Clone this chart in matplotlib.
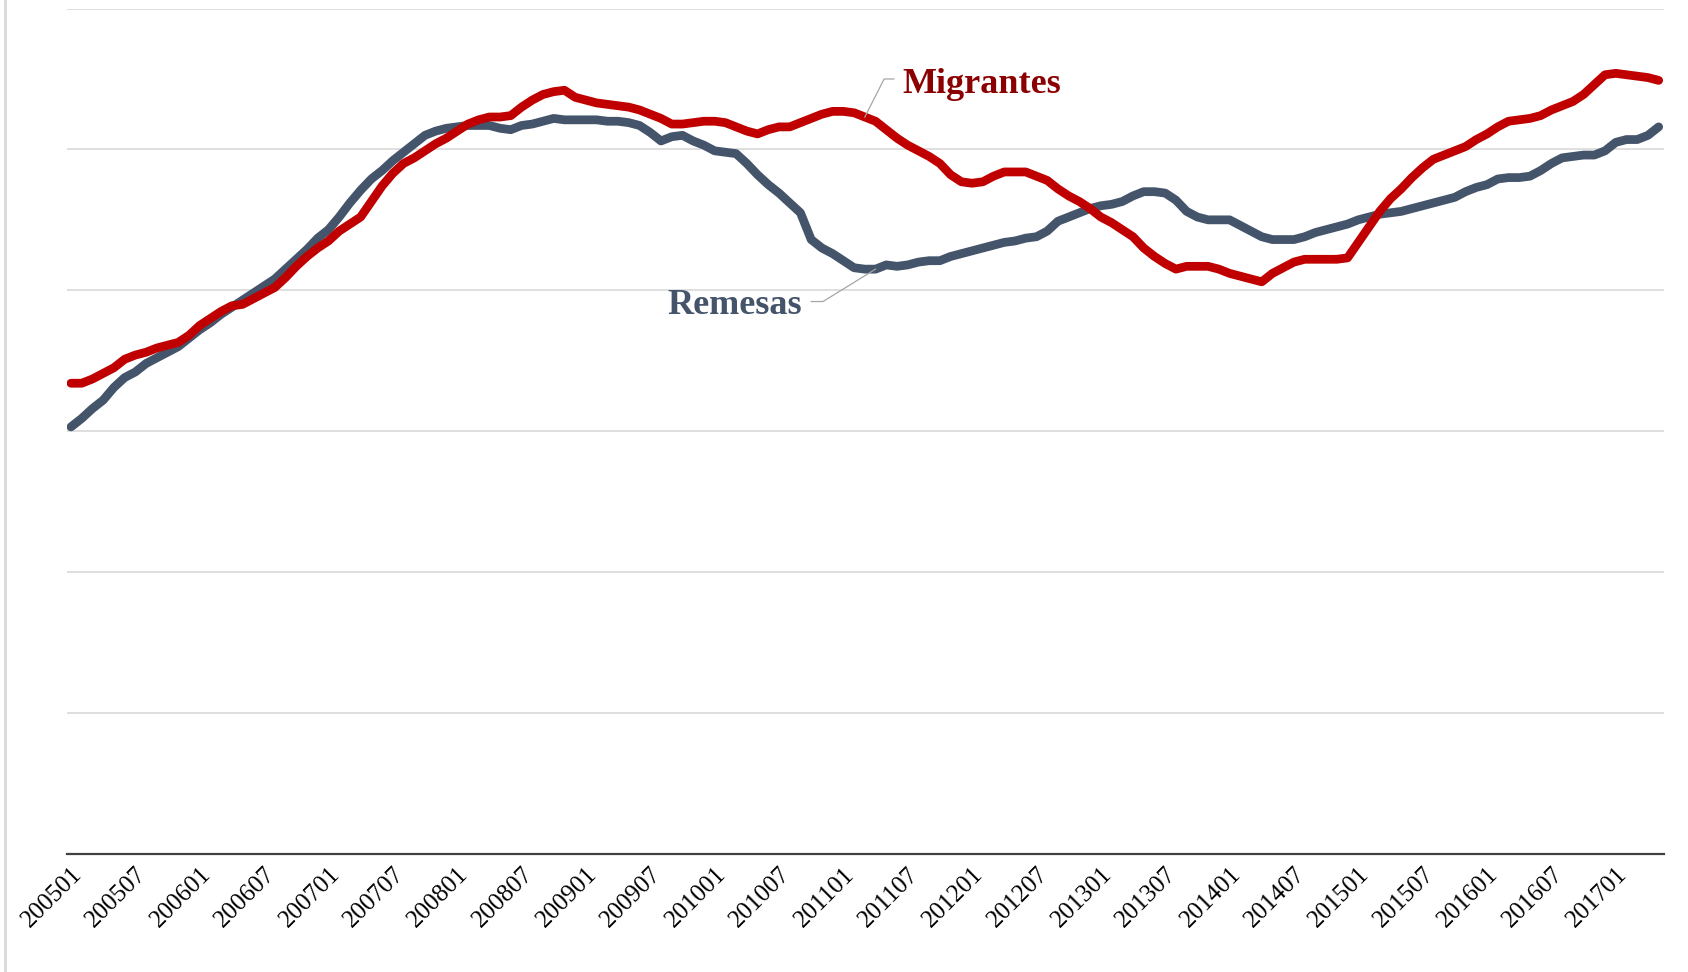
import matplotlib.pyplot as plt
from matplotlib.lines import Line2D

# meses 200501 .. 201705
periodos = [f"{a}{m:02d}" for a in range(2005, 2018) for m in range(1, 13)][:149]

migrantes = [
    3.34, 3.34, 3.37, 3.41, 3.45, 3.51, 3.54, 3.56, 3.59, 3.61,
    3.63, 3.68, 3.75, 3.80, 3.85, 3.89, 3.90, 3.94, 3.98, 4.02,
    4.09, 4.17, 4.24, 4.30, 4.35, 4.42, 4.47, 4.52, 4.63, 4.74,
    4.83, 4.90, 4.94, 4.99, 5.04, 5.08, 5.13, 5.18, 5.21, 5.23,
    5.23, 5.24, 5.30, 5.35, 5.39, 5.41, 5.42, 5.37, 5.35, 5.33,
    5.32, 5.31, 5.30, 5.28, 5.25, 5.22, 5.18, 5.18, 5.19, 5.20,
    5.20, 5.19, 5.16, 5.13, 5.11, 5.14, 5.16, 5.16, 5.19, 5.22,
    5.25, 5.27, 5.27, 5.26, 5.23, 5.20, 5.14, 5.08, 5.03, 4.99,
    4.95, 4.90, 4.82, 4.77, 4.76, 4.77, 4.81, 4.84, 4.84, 4.84,
    4.81, 4.78, 4.72, 4.67, 4.63, 4.58, 4.52, 4.48, 4.43, 4.38,
    4.30, 4.24, 4.19, 4.15, 4.17, 4.17, 4.17, 4.15, 4.12, 4.10,
    4.08, 4.06, 4.12, 4.16, 4.20, 4.22, 4.22, 4.22, 4.22, 4.23,
    4.34, 4.45, 4.56, 4.65, 4.72, 4.80, 4.87, 4.93, 4.96, 4.99,
    5.02, 5.07, 5.11, 5.16, 5.20, 5.21, 5.22, 5.24, 5.28, 5.31,
    5.34, 5.39, 5.46, 5.53, 5.54, 5.53, 5.52, 5.51, 5.49,
]

remesas = [
    3.03, 3.09, 3.16, 3.22, 3.31, 3.38, 3.42, 3.48, 3.52, 3.56,
    3.60, 3.66, 3.72, 3.77, 3.83, 3.88, 3.93, 3.98, 4.03, 4.08,
    4.15, 4.22, 4.29, 4.37, 4.43, 4.52, 4.62, 4.71, 4.79, 4.85,
    4.92, 4.98, 5.04, 5.10, 5.13, 5.15, 5.16, 5.17, 5.17, 5.17,
    5.15, 5.14, 5.17, 5.18, 5.20, 5.22, 5.21, 5.21, 5.21, 5.21,
    5.20, 5.20, 5.19, 5.17, 5.12, 5.06, 5.09, 5.10, 5.06, 5.03,
    4.99, 4.98, 4.97, 4.90, 4.82, 4.75, 4.69, 4.62, 4.55, 4.36,
    4.30, 4.26, 4.21, 4.16, 4.15, 4.15, 4.18, 4.17, 4.18, 4.20,
    4.21, 4.21, 4.24, 4.26, 4.28, 4.30, 4.32, 4.34, 4.35, 4.37,
    4.38, 4.42, 4.49, 4.52, 4.55, 4.58, 4.60, 4.61, 4.63, 4.67,
    4.70, 4.70, 4.69, 4.64, 4.56, 4.52, 4.50, 4.50, 4.50, 4.46,
    4.42, 4.38, 4.36, 4.36, 4.36, 4.38, 4.41, 4.43, 4.45, 4.47,
    4.50, 4.52, 4.54, 4.55, 4.56, 4.58, 4.60, 4.62, 4.64, 4.66,
    4.70, 4.73, 4.75, 4.79, 4.80, 4.80, 4.81, 4.85, 4.90, 4.94,
    4.95, 4.96, 4.96, 4.99, 5.05, 5.07, 5.07, 5.10, 5.16,
]

rojo = '#C00000'
azul = '#44546A'

fig = plt.figure(figsize=(16.88, 9.72), dpi=100)
ax = fig.add_axes([0.0395, 0.1217, 0.9463, 0.8695])

x = range(len(periodos))
ax.plot(x, remesas, color=azul, lw=6.3, solid_capstyle='round', solid_joinstyle='round', zorder=3)
ax.plot(x, migrantes, color=rojo, lw=6.3, solid_capstyle='round', solid_joinstyle='round', zorder=4)

ax.set_xlim(-0.4, 148.5)
ax.set_ylim(0, 6)
ax.set_yticks(range(1, 7))
ax.yaxis.grid(True, color='#d9d9d9', lw=1.2)
ax.set_axisbelow(True)
ax.tick_params(axis='y', left=False, labelleft=False)

ax.set_xticks(list(x)[::6])
ax.set_xticklabels(periodos[::6], rotation=45, ha='right', va='top',
                   rotation_mode='anchor', fontsize=18, family='Liberation Serif')
ax.tick_params(axis='x', length=0, pad=7)

for lado in ['top', 'right', 'left']:
    ax.spines[lado].set_visible(False)
ax.spines['bottom'].set_color('#404040')
ax.spines['bottom'].set_linewidth(1.6)

# etiquetas de las series con linea guia
ax.plot([74, 75.8, 76.7], [migrantes[74], 5.50, 5.50], color='#a6a6a6', lw=0.9, zorder=5)
ax.text(77.5, 5.46, 'Migrantes', color='#8B0000', fontsize=26, fontweight='bold',
        family='Liberation Serif', ha='left', va='center')
ax.plot([75, 70.1, 69.0], [remesas[75], 3.92, 3.92], color='#a6a6a6', lw=0.9, zorder=5)
ax.text(68.1, 3.89, 'Remesas', color=azul, fontsize=26, fontweight='bold',
        family='Liberation Serif', ha='right', va='center')

# borde izquierdo del grafico
fig.add_artist(Line2D([0.003, 0.003], [0, 1], transform=fig.transFigure, color='#d9d9d9', lw=2))

fig.savefig('out.png', dpi=100)
